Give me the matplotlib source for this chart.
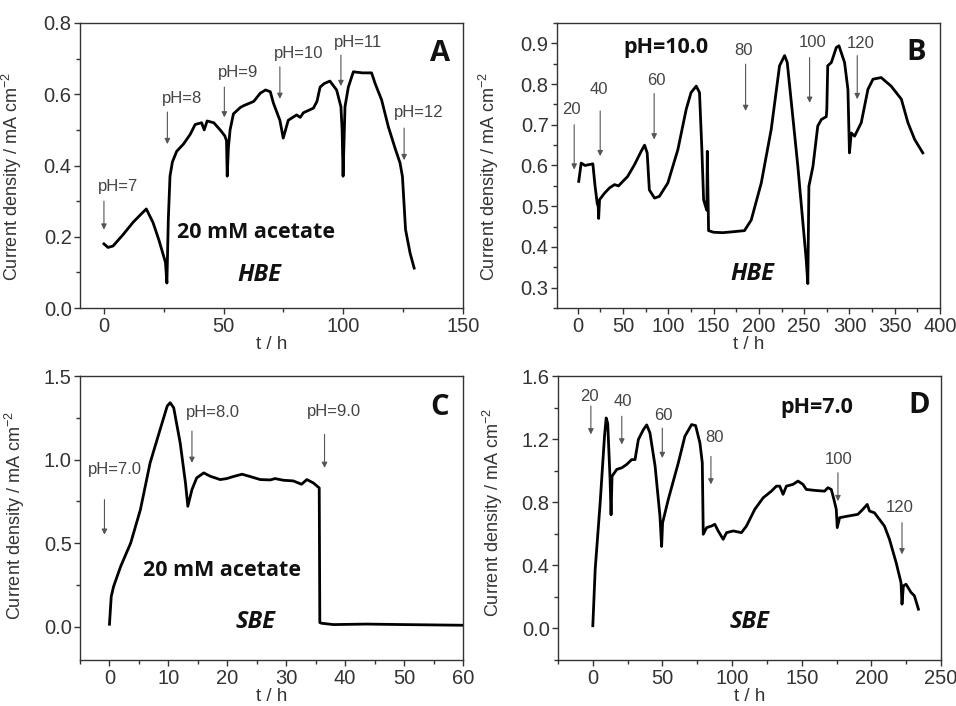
import numpy as np
import matplotlib
matplotlib.use("Agg")
import matplotlib.pyplot as plt
from matplotlib.ticker import MultipleLocator

plt.rcParams["font.family"] = ["Liberation Sans", "DejaVu Sans"]
plt.rcParams["mathtext.fontset"] = "custom"
plt.rcParams["mathtext.rm"] = "Liberation Sans"

# ===================== data =====================
# A: HBE, 20 mM acetate, stepwise pH
tA = [0, 1.7, 3.8, 8, 12.1, 15, 17.7, 20.5, 23, 25.7, 26.3, 26.9, 27.6, 28.6, 30.4, 33.2, 36, 38.1,
      40.8, 41.9, 43.1, 45.9, 48.8, 50.5, 51.2, 51.5, 52, 52.7, 54.1, 57, 58.4, 62.6, 65.3, 67.5,
      69.5, 70.8, 73.5, 74.9, 77, 80.5, 82, 83.3, 87.5, 89, 90.3, 92, 94.4, 97.2, 99, 99.5, 99.9,
      100.7, 102.1, 104.2, 108, 111.8, 113.3, 116, 118.8, 121.6, 123.7, 124.7, 125.3, 126, 127.9, 129.6]
jA = [0.18, 0.17, 0.174, 0.206, 0.24, 0.26, 0.278, 0.24, 0.19, 0.128, 0.07, 0.25, 0.37, 0.41, 0.44,
      0.46, 0.487, 0.515, 0.52, 0.50, 0.525, 0.52, 0.498, 0.483, 0.47, 0.37, 0.45, 0.5, 0.545, 0.563,
      0.568, 0.58, 0.603, 0.612, 0.607, 0.575, 0.527, 0.477, 0.527, 0.542, 0.535, 0.548, 0.561, 0.58,
      0.62, 0.63, 0.637, 0.612, 0.565, 0.5, 0.37, 0.565, 0.62, 0.663, 0.66, 0.66, 0.63, 0.584, 0.509,
      0.449, 0.407, 0.369, 0.30, 0.22, 0.154, 0.112]

# B: HBE, pH 10.0, acetate additions
tB = [1, 3.7, 8, 12, 16.6, 19, 21.4, 22.5, 23, 24, 29.5, 35, 40.5, 45, 48, 55, 62.6, 70, 73.7, 76.6,
      79, 84.7, 90, 99.4, 110.5, 119.7, 125, 130.8, 134.4, 137, 138.9, 141, 142.5, 143, 144.4, 150,
      160, 170, 184, 191.5, 202.6, 213.6, 222.8, 228.4, 231.3, 243, 252.3, 254, 255.2, 259.7, 265,
      269, 274.4, 275, 276, 280, 285.5, 288.4, 294.6, 298.3, 300, 302, 305.7, 313, 320.4, 326, 335,
      346, 357.3, 364.6, 372, 381]
jB = [0.561, 0.606, 0.6, 0.602, 0.604, 0.55, 0.507, 0.5, 0.47, 0.516, 0.532, 0.545, 0.553, 0.55,
      0.557, 0.573, 0.602, 0.635, 0.65, 0.631, 0.54, 0.52, 0.524, 0.557, 0.639, 0.738, 0.779, 0.795,
      0.779, 0.639, 0.516, 0.5, 0.49, 0.635, 0.44, 0.436, 0.435, 0.437, 0.44, 0.466, 0.557, 0.689,
      0.845, 0.87, 0.853, 0.598, 0.367, 0.31, 0.549, 0.598, 0.697, 0.713, 0.72, 0.738, 0.845, 0.853,
      0.89, 0.894, 0.853, 0.787, 0.631, 0.68, 0.672, 0.705, 0.787, 0.812, 0.816, 0.795, 0.763, 0.705,
      0.664, 0.631]

# C: SBE, 20 mM acetate, stepwise pH
tC = [0, 0.3, 0.7, 1.9, 3.6, 5.25, 6.9, 8.6, 9.8, 10.3, 10.9, 12, 12.9, 13.3, 14, 14.8, 16, 17.1,
      18.8, 19.9, 21, 22.5, 23.9, 25.6, 27.3, 28.1, 29.5, 31.2, 32.6, 33.5, 34.6, 35.6, 35.7, 36, 38,
      43.6, 50, 60]
jC = [0.014, 0.18, 0.24, 0.36, 0.5, 0.70, 0.98, 1.18, 1.32, 1.34, 1.31, 1.10, 0.86, 0.72, 0.82, 0.89,
      0.92, 0.90, 0.88, 0.886, 0.898, 0.912, 0.898, 0.88, 0.878, 0.886, 0.876, 0.872, 0.852, 0.88,
      0.86, 0.83, 0.024, 0.02, 0.012, 0.015, 0.012, 0.008]

# D: SBE, pH 7.0, acetate additions
tD = [0, 1.7, 5.3, 8.4, 9.6, 10.7, 12.4, 13.1, 13.8, 17.2, 20.8, 24.4, 27.9, 30.3, 32.7, 36.3, 38.7,
      41, 44.7, 48.2, 49.4, 50.1, 54.2, 61.4, 66.1, 70.9, 73.8, 76.9, 78.6, 79.3, 81.7, 85.2, 87.6, 90,
      93.6, 96, 100.8, 106.7, 110.3, 116.3, 122.3, 128.2, 131.8, 134.2, 136.6, 139, 143.7, 147.3,
      150.9, 153.3, 159.3, 166.4, 168.8, 171.2, 173.1, 174.8, 175.5, 177.2, 183.1, 190.3, 193.9, 197,
      198.7, 202.2, 205.8, 209.4, 213, 217.8, 221.3, 222, 223, 224.9, 228.5, 230.9, 233.8]
jD = [0.017, 0.375, 0.80, 1.22, 1.334, 1.30, 0.944, 0.72, 0.965, 1.008, 1.018, 1.04, 1.07, 1.07,
      1.197, 1.26, 1.29, 1.24, 1.03, 0.712, 0.52, 0.67, 0.818, 1.05, 1.218, 1.292, 1.286, 1.176, 1.05,
      0.597, 0.639, 0.649, 0.66, 0.618, 0.565, 0.607, 0.618, 0.607, 0.649, 0.755, 0.828, 0.87, 0.902,
      0.902, 0.85, 0.902, 0.913, 0.934, 0.913, 0.881, 0.875, 0.87, 0.892, 0.881, 0.818, 0.755, 0.639,
      0.702, 0.712, 0.723, 0.755, 0.786, 0.744, 0.733, 0.691, 0.649, 0.565, 0.417, 0.29, 0.154, 0.27,
      0.28, 0.228, 0.207, 0.122]

# arrow annotations: (label, text x, text y, arrow x, arrow start y, arrow end y)
arrA = [("pH=7", 6, 0.34, 0, 0.30, 0.22), ("pH=8", 32.5, 0.587, 26.5, 0.55, 0.46),
        ("pH=9", 56, 0.66, 50.3, 0.62, 0.535), ("pH=10", 81.5, 0.715, 73.5, 0.677, 0.587),
        ("pH=11", 106, 0.746, 99, 0.71, 0.623), ("pH=12", 131.6, 0.548, 125.4, 0.505, 0.415)]
arrB = [("20", -7.4, 0.738, -4, 0.70, 0.59), ("40", 23.2, 0.787, 24.7, 0.734, 0.623),
        ("60", 87.3, 0.809, 84.3, 0.777, 0.664), ("80", 183, 0.882, 185.3, 0.849, 0.734),
        ("100", 259.7, 0.902, 256, 0.865, 0.754), ("120", 312, 0.9, 308.6, 0.87, 0.763)]
arrC = [("pH=7.0", 1.0, 0.94, -0.85, 0.76, 0.55), ("pH=8.0", 17.6, 1.28, 14, 1.17, 0.98),
        ("pH=9.0", 38.1, 1.285, 36.5, 1.15, 0.95)]
arrD = [("20", -2.4, 1.47, -1.4, 1.41, 1.23), ("40", 21.5, 1.44, 20.8, 1.345, 1.166),
        ("60", 50.6, 1.35, 49.9, 1.27, 1.08), ("80", 87.2, 1.21, 84.8, 1.09, 0.913),
        ("100", 176.7, 1.07, 176, 0.987, 0.807), ("120", 220, 0.765, 222, 0.67, 0.47)]

# ===================== figure =====================
W, H = 956, 706
fig = plt.figure(figsize=(W / 100, H / 100), dpi=100)

def px_axes(x0, y0, x1, y1):
    return fig.add_axes([x0 / W, (H - y1) / H, (x1 - x0) / W, (y1 - y0) / H])

axA = px_axes(80, 23, 463, 308)
axB = px_axes(557, 23, 940, 308)
axC = px_axes(80, 376, 463, 660)
axD = px_axes(558, 376, 941, 660)

tick_col = "#333333"
ann_col = "#444444"
bold_font = ["Open Sans", "DejaVu Sans"]

def style(ax, xlim, ylim, xmaj, xmin, ymaj, ymin, ylab_xy):
    ax.set_xlim(*xlim)
    ax.set_ylim(*ylim)
    ax.xaxis.set_major_locator(MultipleLocator(xmaj))
    ax.xaxis.set_minor_locator(MultipleLocator(xmin))
    ax.yaxis.set_major_locator(MultipleLocator(ymaj))
    ax.yaxis.set_minor_locator(MultipleLocator(ymin))
    ax.yaxis.set_major_formatter(plt.FormatStrFormatter("%.1f"))
    ax.tick_params(which="both", direction="out", colors="#333333", top=False, right=False,
                   labelsize=14.5, labelcolor=tick_col, width=1)
    ax.tick_params(which="major", length=4.5)
    ax.tick_params(which="minor", length=3)
    ax.tick_params(axis="x", pad=2)
    ax.tick_params(axis="y", pad=1.5)
    for s in ax.spines.values():
        s.set_color("#333333")
        s.set_linewidth(1.0)
    ax.set_xlabel("t / h", fontsize=13.5, color=tick_col, labelpad=0)
    ax.set_ylabel("Current density / mA cm$^{-2}$", fontsize=13, color=tick_col)
    ax.yaxis.set_label_coords(*ylab_xy)

def arrows(ax, items):
    for lab, tx, ty, axx, y0, y1 in items:
        ax.annotate("", xy=(axx, y1), xytext=(axx, y0),
                    arrowprops=dict(arrowstyle="-|>", color="#555555", lw=0.8,
                                    mutation_scale=8, shrinkA=0, shrinkB=0))
        ax.text(tx, ty, lab, fontsize=12, color=ann_col, ha="center", va="center")

for ax, t, j in [(axA, tA, jA), (axB, tB, jB), (axC, tC, jC), (axD, tD, jD)]:
    ax.plot(t, j, color="black", lw=2.0, solid_joinstyle="round")

style(axA, (-10, 150), (0, 0.8), 50, 25, 0.2, 0.1, (-0.145, 0.46))
style(axB, (-23, 400), (0.25, 0.95), 50, 25, 0.1, 0.05, (-0.145, 0.46))
style(axC, (-5, 60), (-0.2, 1.5), 10, 5, 0.5, 0.25, (-0.138, 0.51))
style(axD, (-25, 250), (-0.2, 1.6), 50, 25, 0.4, 0.2, (-0.138, 0.52))

arrows(axA, arrA)
arrows(axB, arrB)
arrows(axC, arrC)
arrows(axD, arrD)

bold = dict(family=bold_font, fontweight="bold", fontsize=15.5, ha="center", va="center", color="#111111")
bi = dict(family=bold_font, fontweight="bold", style="italic", fontsize=17, ha="center",
          va="center", color="#111111")
letter = dict(family=bold_font, fontweight="bold", fontsize=21, ha="center", va="center", color="#111111")

axA.text(63.5, 0.213, "20 mM acetate", **bold)
axA.text(65, 0.093, "HBE", **bi)
axA.text(140.5, 0.715, "A", **letter)

axB.text(96.9, 0.89, "pH=10.0", **bold)
axB.text(192.6, 0.333, "HBE", **bi)
axB.text(373.8, 0.878, "B", **letter)

axC.text(19.1, 0.333, "20 mM acetate", **bold)
axC.text(24.7, 0.028, "SBE", **bi)
axC.text(56, 1.31, "C", **letter)

axD.text(160.5, 1.40, "pH=7.0", **bold)
axD.text(112.7, 0.042, "SBE", **bi)
axD.text(234.5, 1.41, "D", **letter)

fig.savefig("out.png", dpi=100)
